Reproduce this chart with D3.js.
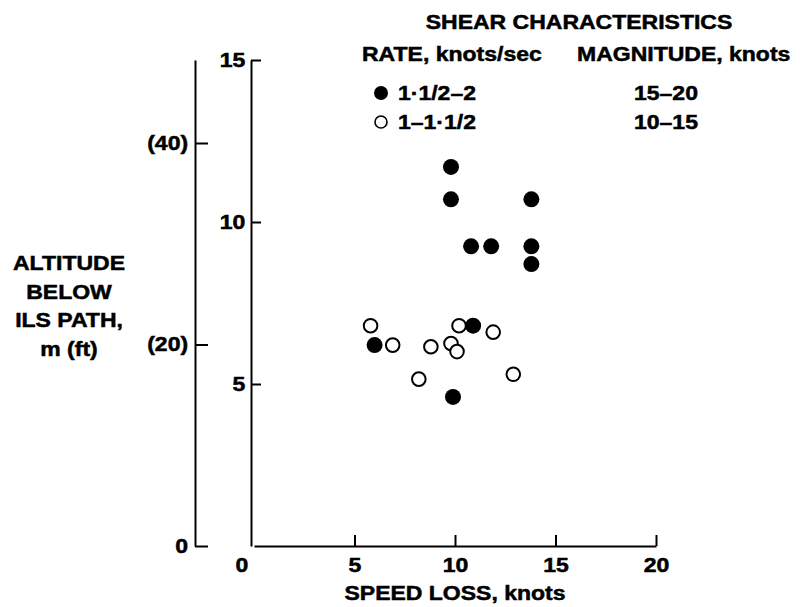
<!DOCTYPE html>
<html>
<head>
<meta charset="utf-8">
<script src="https://cdn.jsdelivr.net/npm/d3@7"></script>
<style>
  body { margin: 0; background: #fff; }
  svg text { font-family: "Liberation Sans", Arial, sans-serif; font-weight: bold; font-size: 20px; fill: #000; stroke: #000; stroke-width: 0.5; }
  .axis path, .axis line { stroke: #000; stroke-width: 2; }
</style>
</head>
<body>
<svg id="chart" width="806" height="607"></svg>
<script>
// Shear rate 1-1/2 to 2 knots/sec (filled)
const fastSpeedLoss = [9.8, 9.8, 13.8, 10.8, 11.8, 13.8, 13.8, 6.0, 10.9, 9.9];
const fastAltitude = [11.7, 10.7, 10.7, 9.25, 9.25, 9.25, 8.7, 6.2, 6.8, 4.6];

// Shear rate 1 to 1-1/2 knots/sec (open)
const slowSpeedLoss = [5.8, 6.9, 8.8, 9.8, 10.1, 10.2, 11.9, 8.2, 12.9];
const slowAltitude = [6.8, 6.2, 6.15, 6.25, 6.0, 6.8, 6.6, 5.15, 5.3];

// Legend and ticks
const rateLabels = ["1\u00b71/2\u20132", "1\u20131\u00b71/2"];
const magnitudeLabels = ["15\u201320", "10\u201315"];
const yTitleLines = ["ALTITUDE", "BELOW", "ILS PATH,", "m (ft)"];
const xTicks = [0, 5, 10, 15, 20];
const yTicks = [5, 10, 15];
const ftTicks = [0, 20, 40];

const svg = d3.select("#chart");

const x = d3.scaleLinear().domain([0, 20]).range([254, 656]);
const y = d3.scaleLinear().domain([0, 15]).range([546, 60]);
const yFt = d3.scaleLinear().domain([0, 40]).range([y(0), 143]);

// the scanned lettering is wide, so stretch every label a bit
function addText(txt, px, py, anchor) {
    return svg.append("text")
        .attr("transform", `translate(${px},${py}) scale(1.15,1)`)
        .attr("text-anchor", anchor)
        .text(txt);
}

function stretchTicks(g) {
    g.selectAll(".tick text").attr("transform", "scale(1.15,1)");
}

// metres axis
svg.append("g")
    .attr("class", "axis")
    .attr("transform", "translate(251,0)")
    .call(d3.axisLeft(y).tickValues(yTicks).tickSizeInner(-10).tickSizeOuter(0).tickPadding(5))
    .call(stretchTicks);

// feet axis, runs up to the same height as the metres axis
const ftAxisScale = yFt.copy().domain([0, yFt.invert(y(15))]).range([y(0), y(15)]);
svg.append("g")
    .attr("class", "axis")
    .attr("transform", "translate(195,0)")
    .call(d3.axisLeft(ftAxisScale).tickValues(ftTicks).tickSizeInner(-13).tickSizeOuter(0).tickPadding(6)
        .tickFormat(d => d === 0 ? "0" : `(${d})`))
    .call(stretchTicks);

// speed loss axis
const xAxis = svg.append("g")
    .attr("class", "axis")
    .attr("transform", `translate(0,${y(0)})`)
    .call(d3.axisBottom(x).tickValues(xTicks).tickSizeInner(-11).tickSizeOuter(0).tickPadding(12))
    .call(stretchTicks);

xAxis.selectAll(".tick").filter(d => d === 0).select("line").remove();
xAxis.selectAll(".tick").filter(d => d === 0).select("text").attr("x", -11);

// points
svg.append("g")
    .selectAll("circle")
    .data(d3.zip(slowSpeedLoss, slowAltitude))
    .join("circle")
    .attr("cx", d => x(d[0]))
    .attr("cy", d => y(d[1]))
    .attr("r", 6.8)
    .attr("fill", "#fff")
    .attr("stroke", "#000")
    .attr("stroke-width", 2);

svg.append("g")
    .selectAll("circle")
    .data(d3.zip(fastSpeedLoss, fastAltitude))
    .join("circle")
    .attr("cx", d => x(d[0]))
    .attr("cy", d => y(d[1]))
    .attr("r", 8)
    .attr("fill", "#000");

// legend
addText("SHEAR CHARACTERISTICS", 579, 29, "middle");
addText("RATE, knots/sec", 362, 61, "start");
addText("MAGNITUDE, knots", 577, 61, "start");

rateLabels.forEach((label, i) => {
    const rowY = 100 + i * 29;
    svg.append("circle")
        .attr("cx", 381)
        .attr("cy", rowY - 7)
        .attr("r", i === 0 ? 7 : 6)
        .attr("fill", i === 0 ? "#000" : "#fff")
        .attr("stroke", "#000")
        .attr("stroke-width", i === 0 ? 0 : 1.6);
    addText(label, 398, rowY, "start");
    addText(magnitudeLabels[i], 634, rowY, "start");
});

// axis titles
yTitleLines.forEach((line, i) => addText(line, 69, 270 + i * 28.5, "middle"));
addText("SPEED LOSS, knots", 455, 600, "middle");
</script>
</body>
</html>
